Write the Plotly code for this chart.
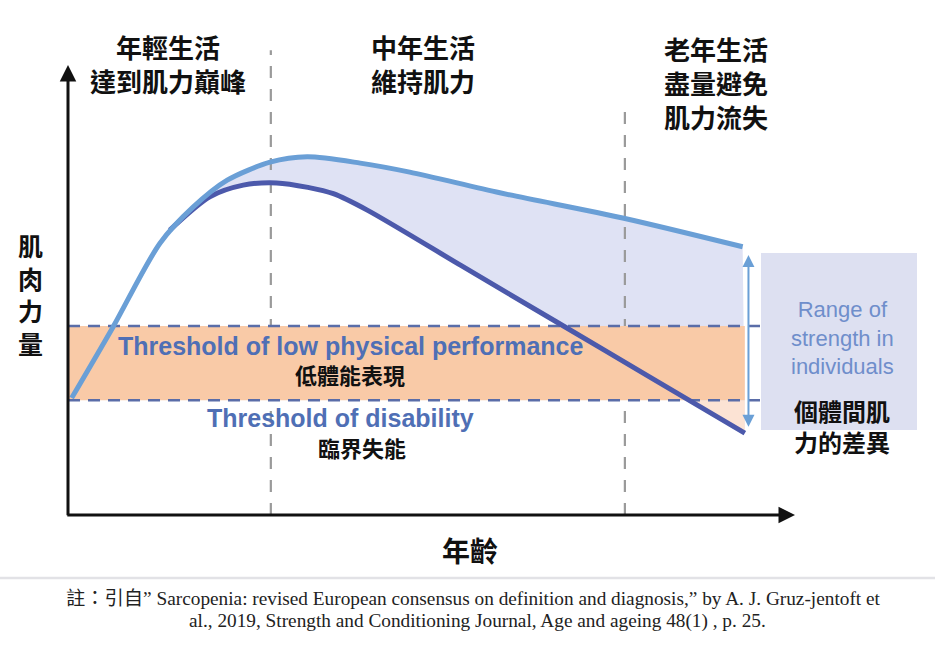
import plotly.graph_objects as go

# ---------------- data (abstract age 0-100, muscle strength 0-100) ----------------
age_high = [0.5, 6.2, 12.65, 17.2, 21.9, 27.8, 32.9, 40.2, 47.0, 59.4, 76.3, 92.8]
str_high = [26.0, 41.8, 60.4, 68.4, 74.4, 78.4, 79.6, 78.2, 76.2, 71.6, 66.0, 59.6]

age_low = [14.0, 19.5, 24.1, 28.7, 33.0, 36.5, 41.1, 54.1, 67.1, 80.1, 93.1]
str_low = [63.3, 70.7, 73.3, 73.8, 72.8, 71.4, 67.8, 55.4, 43.0, 30.6, 18.2]

threshold_low_perf = 42.0
threshold_disability = 25.5
band_end_age = 93.1
threshold_line_end_age = 95.5

phase_bounds = [27.9, 76.6]
phase_tops = [103.3, 91.1]

range_arrow_age = 93.6
range_arrow_top = 57.8
range_arrow_bottom = 19.3

# ---------------- layout helpers ----------------
W, H = 935, 656
X0_PX, X_SCALE = 68, 7.27      # px = X0_PX + X_SCALE * age
Y0_PX, Y_SCALE = 515, 4.5      # py = Y0_PX - Y_SCALE * strength
x_range = [(0 - X0_PX) / X_SCALE, (W - X0_PX) / X_SCALE]
y_range = [(Y0_PX - H) / Y_SCALE, (Y0_PX - 0) / Y_SCALE]

def px(x):
    return x / W

def py(y):
    return 1 - y / H

C_LIGHT = "#6a9fd6"
C_DARK = "#4c59ab"
C_FILL = "#dfe2f4"
C_BAND = "#f9caa7"
C_PALE = "#fce3d4"
C_THRESH = "#5a6da8"
C_TXT = "#4f6fb5"
C_BOX = "#dde0f1"
C_BOXTXT = "#6f8ecb"

CJK = "Noto Sans CJK TC"
SANS = "Liberation Sans"
SERIF = "Liberation Serif"

fig = go.Figure()

# lavender fill between curves
fig.add_trace(go.Scatter(x=age_low, y=str_low, mode="lines",
                         line=dict(width=0, shape="spline", color=C_FILL),
                         hoverinfo="skip", showlegend=False))
fig.add_trace(go.Scatter(x=age_high, y=str_high, mode="lines", fill="tonexty",
                         fillcolor=C_FILL,
                         line=dict(width=0, shape="spline", color=C_FILL),
                         hoverinfo="skip", showlegend=False))

# pale region between the lower curve and the disability threshold
pale_x, pale_y = [], []
for i in range(1, len(age_low)):
    a0, a1 = age_low[i - 1], age_low[i]
    s0, s1 = str_low[i - 1], str_low[i]
    if s0 >= threshold_disability > s1:
        t = (s0 - threshold_disability) / (s0 - s1)
        pale_x.append(a0 + t * (a1 - a0))
        pale_y.append(threshold_disability)
    if s1 < threshold_disability:
        pale_x.append(a1)
        pale_y.append(s1)
pale_x += [band_end_age, pale_x[0]]
pale_y += [threshold_disability, threshold_disability]
fig.add_trace(go.Scatter(x=pale_x, y=pale_y, mode="lines", fill="toself", fillcolor=C_PALE,
                         line=dict(width=0, color=C_PALE), hoverinfo="skip", showlegend=False))

# phase boundaries (gray dashed verticals)
for xb, top in zip(phase_bounds, phase_tops):
    fig.add_trace(go.Scatter(x=[xb, xb], y=[0, top], mode="lines",
                             line=dict(color="#9a9a9a", width=2.2, dash="12px,11px"),
                             hoverinfo="skip", showlegend=False))

# orange band between thresholds
fig.add_trace(go.Scatter(x=[0, band_end_age, band_end_age, 0, 0],
                         y=[threshold_disability, threshold_disability,
                            threshold_low_perf, threshold_low_perf, threshold_disability],
                         mode="lines", fill="toself", fillcolor=C_BAND,
                         line=dict(width=0, color=C_BAND),
                         hoverinfo="skip", showlegend=False))

# threshold dashed lines
for th in [threshold_low_perf, threshold_disability]:
    fig.add_trace(go.Scatter(x=[0, threshold_line_end_age], y=[th, th], mode="lines",
                             line=dict(color=C_THRESH, width=2.6, dash="12px,8px"),
                             hoverinfo="skip", showlegend=False))

# curves
fig.add_trace(go.Scatter(x=age_low, y=str_low, mode="lines",
                         line=dict(color=C_DARK, width=5, shape="spline", smoothing=0.8),
                         hoverinfo="skip", showlegend=False))
fig.add_trace(go.Scatter(x=age_high, y=str_high, mode="lines",
                         line=dict(color=C_LIGHT, width=5, shape="spline", smoothing=0.8),
                         hoverinfo="skip", showlegend=False))

shapes = [
    # right info box
    dict(type="rect", xref="paper", yref="paper",
         x0=px(761), x1=px(917), y0=py(430), y1=py(253),
         fillcolor=C_BOX, line=dict(width=0), layer="above"),
    # footer separator
    dict(type="line", xref="paper", yref="paper",
         x0=0, x1=1, y0=py(578), y1=py(578),
         line=dict(color="#e2e2e6", width=2.5)),
]

annotations = []
# axes with arrows
annotations.append(dict(x=0, y=100, ax=0, ay=-0.4, xref="x", yref="y", axref="x", ayref="y",
                        showarrow=True, arrowhead=2, arrowsize=1.1, arrowwidth=3,
                        arrowcolor="#111111", text=""))
annotations.append(dict(x=100, y=0, ax=-0.3, ay=0, xref="x", yref="y", axref="x", ayref="y",
                        showarrow=True, arrowhead=2, arrowsize=1.1, arrowwidth=3,
                        arrowcolor="#111111", text=""))
# range double arrow
annotations.append(dict(x=range_arrow_age, y=range_arrow_top, ax=range_arrow_age,
                        ay=range_arrow_bottom, xref="x", yref="y", axref="x", ayref="y",
                        showarrow=True, arrowhead=2, startarrowhead=2, arrowside="end+start",
                        arrowsize=1.2, startarrowsize=1.2, arrowwidth=2,
                        arrowcolor=C_LIGHT, text=""))

def txt(text, x, y, size, color="#111111", family=CJK, weight="bold", xanchor="center"):
    annotations.append(dict(text=text, x=px(x), y=py(y), xref="paper", yref="paper",
                            xanchor=xanchor, yanchor="middle", showarrow=False,
                            font=dict(size=size, color=color, family=family, weight=weight)))

# phase headers
txt("年輕生活<br>達到肌力巔峰", 168, 64, 26)
txt("中年生活<br>維持肌力", 423, 64, 26)
txt("老年生活<br>盡量避免<br>肌力流失", 716, 82, 26)

# axis titles
txt("肌<br>肉<br>力<br>量", 30, 294, 25)
txt("年齡", 470, 550, 28)

# threshold labels
txt("Threshold of low physical performance", 350, 346, 25, color=C_TXT, family=SANS)
txt("低體能表現", 350, 374, 22)
txt("Threshold of disability", 340, 418, 25, color=C_TXT, family=SANS)
txt("臨界失能", 362, 447, 22)

# box labels
txt("Range of<br>strength in<br>individuals", 842, 338, 22, color=C_BOXTXT, family=SANS,
    weight="normal")
txt("個體間肌<br>力的差異", 842, 426, 24)

# footer
txt("註：引自” Sarcopenia: revised European consensus on definition and diagnosis,” by A. J. Gruz-jentoft et",
    473, 598, 19.3, family=SERIF + ", " + CJK, weight="normal", color="#222222")
txt("al., 2019, Strength and Conditioning Journal, Age and ageing 48(1) , p. 25.",
    477, 621, 19.3, family=SERIF, weight="normal", color="#222222")

fig.update_layout(
    width=W, height=H,
    margin=dict(l=0, r=0, t=0, b=0),
    paper_bgcolor="white", plot_bgcolor="white",
    xaxis=dict(range=x_range, visible=False, fixedrange=True),
    yaxis=dict(range=y_range, visible=False, fixedrange=True),
    shapes=shapes, annotations=annotations, showlegend=False,
)

fig.write_html("out.html", config={"displayModeBar": False},
               post_script="document.body.style.margin='0px';")
